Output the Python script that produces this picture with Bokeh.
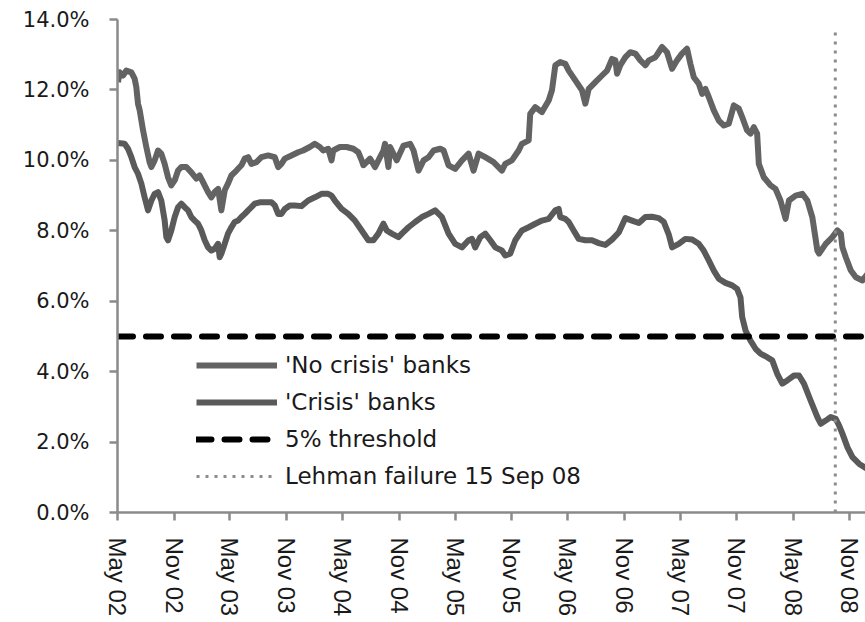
from datetime import datetime
from bokeh.plotting import figure
from bokeh.models import (Range1d, FixedTicker, PrintfTickFormatter,
                          DatetimeTickFormatter, Legend, LegendItem)
from bokeh.embed import file_html
from bokeh.resources import INLINE

# ---------------- data (dates as decimal years, values in %) ----------------
no_crisis_t = [
    2002.333, 2002.348, 2002.378, 2002.407, 2002.452, 2002.481, 2002.496, 2002.511, 2002.526, 2002.556,
    2002.585, 2002.614, 2002.630, 2002.659, 2002.689, 2002.718, 2002.748, 2002.778, 2002.807, 2002.837,
    2002.867, 2002.896, 2002.941, 2002.985, 2003.030, 2003.059, 2003.089, 2003.134, 2003.163, 2003.193,
    2003.223, 2003.252, 2003.282, 2003.311, 2003.341, 2003.386, 2003.430, 2003.460, 2003.490, 2003.519,
    2003.564, 2003.608, 2003.668, 2003.727, 2003.757, 2003.786, 2003.816, 2003.875, 2003.935, 2003.979,
    2004.038, 2004.082, 2004.127, 2004.157, 2004.201, 2004.231, 2004.246, 2004.305, 2004.364, 2004.424,
    2004.468, 2004.498, 2004.513, 2004.542, 2004.572, 2004.616, 2004.661, 2004.691, 2004.705, 2004.735,
    2004.750, 2004.809, 2004.869, 2004.928, 2004.958, 2004.987, 2005.002, 2005.047, 2005.091, 2005.136,
    2005.195, 2005.225, 2005.269, 2005.328, 2005.388, 2005.447, 2005.491, 2005.536, 2005.595, 2005.669,
    2005.743, 2005.773, 2005.832, 2005.892, 2005.921, 2005.981, 2005.995, 2006.040, 2006.099, 2006.159,
    2006.188, 2006.218, 2006.262, 2006.307, 2006.337, 2006.396, 2006.455, 2006.485, 2006.515, 2006.574,
    2006.633, 2006.678, 2006.722, 2006.752, 2006.767, 2006.796, 2006.841, 2006.885, 2006.930, 2006.974,
    2007.019, 2007.049, 2007.108, 2007.137, 2007.167, 2007.211, 2007.256, 2007.300, 2007.344, 2007.389,
    2007.419, 2007.449, 2007.493, 2007.523, 2007.552, 2007.582, 2007.627, 2007.671, 2007.716, 2007.760,
    2007.805, 2007.849, 2007.879, 2007.923, 2007.953, 2007.983, 2008.012, 2008.027, 2008.071, 2008.131,
    2008.175, 2008.219, 2008.264, 2008.294, 2008.353, 2008.412, 2008.457, 2008.501, 2008.546, 2008.561,
    2008.620, 2008.679, 2008.724, 2008.754, 2008.768, 2008.798, 2008.843, 2008.887, 2008.946, 2008.991,
]
no_crisis_v = [
    12.22, 12.50, 12.41, 12.55, 12.50, 12.32, 12.08, 11.61, 11.42, 10.85,
    10.38, 9.95, 9.81, 10.00, 10.28, 10.19, 9.90, 9.52, 9.29, 9.43,
    9.71, 9.81, 9.81, 9.66, 9.48, 9.57, 9.38, 9.10, 8.95, 9.10,
    9.19, 8.58, 9.15, 9.34, 9.57, 9.71, 9.86, 10.05, 10.09, 9.90,
    9.95, 10.09, 10.14, 10.09, 9.81, 9.90, 10.05, 10.14, 10.23, 10.28,
    10.38, 10.47, 10.38, 10.28, 10.33, 10.00, 10.28, 10.38, 10.38, 10.33,
    10.23, 10.00, 9.86, 9.95, 10.05, 9.81, 10.09, 10.28, 10.47, 9.81,
    10.38, 10.00, 10.42, 10.47, 10.28, 9.90, 9.71, 10.00, 10.09, 10.28,
    10.33, 10.28, 9.86, 9.76, 10.00, 10.19, 9.71, 10.19, 10.09, 9.95,
    9.71, 9.90, 10.00, 10.28, 10.47, 10.57, 11.32, 11.51, 11.37, 11.70,
    11.99, 12.70, 12.79, 12.74, 12.55, 12.27, 11.99, 11.61, 12.03, 12.22,
    12.41, 12.55, 12.88, 12.84, 12.46, 12.70, 12.93, 13.07, 13.03, 12.84,
    12.70, 12.84, 12.93, 13.07, 13.22, 13.07, 12.60, 12.84, 13.03, 13.17,
    12.74, 12.36, 12.18, 11.89, 12.03, 11.80, 11.42, 11.13, 10.99, 11.04,
    11.56, 11.47, 11.23, 10.85, 10.76, 10.94, 10.76, 9.90, 9.52, 9.29,
    9.19, 8.86, 8.34, 8.86, 9.00, 9.05, 8.86, 8.39, 7.44, 7.35,
    7.63, 7.82, 8.01, 7.92, 7.53, 7.25, 6.87, 6.68, 6.59, 6.78,
]

crisis_t = [
    2002.333, 2002.392, 2002.422, 2002.452, 2002.481, 2002.511, 2002.541, 2002.570, 2002.600, 2002.630,
    2002.659, 2002.689, 2002.718, 2002.748, 2002.763, 2002.778, 2002.807, 2002.837, 2002.867, 2002.896,
    2002.926, 2002.956, 2002.985, 2003.015, 2003.045, 2003.074, 2003.104, 2003.134, 2003.163, 2003.193,
    2003.223, 2003.237, 2003.252, 2003.282, 2003.311, 2003.341, 2003.371, 2003.401, 2003.430, 2003.460,
    2003.490, 2003.519, 2003.549, 2003.593, 2003.638, 2003.697, 2003.727, 2003.757, 2003.786, 2003.816,
    2003.860, 2003.905, 2003.964, 2004.024, 2004.083, 2004.142, 2004.201, 2004.231, 2004.260, 2004.320,
    2004.379, 2004.438, 2004.498, 2004.557, 2004.602, 2004.646, 2004.691, 2004.720, 2004.765, 2004.824,
    2004.854, 2004.913, 2004.972, 2005.032, 2005.091, 2005.150, 2005.210, 2005.269, 2005.328, 2005.388,
    2005.447, 2005.477, 2005.506, 2005.551, 2005.595, 2005.640, 2005.684, 2005.743, 2005.773, 2005.817,
    2005.862, 2005.921, 2005.981, 2006.040, 2006.099, 2006.159, 2006.218, 2006.248, 2006.262, 2006.307,
    2006.337, 2006.381, 2006.426, 2006.485, 2006.544, 2006.604, 2006.663, 2006.722, 2006.782, 2006.841,
    2006.900, 2006.960, 2007.019, 2007.078, 2007.137, 2007.182, 2007.226, 2007.256, 2007.315, 2007.374,
    2007.434, 2007.493, 2007.537, 2007.582, 2007.627, 2007.671, 2007.730, 2007.790, 2007.834, 2007.864,
    2007.879, 2007.909, 2007.953, 2007.998, 2008.042, 2008.101, 2008.146, 2008.190, 2008.235, 2008.279,
    2008.339, 2008.383, 2008.427, 2008.486, 2008.546, 2008.576, 2008.620, 2008.665, 2008.709, 2008.739,
    2008.768, 2008.813, 2008.857, 2008.917, 2008.961, 2008.991,
]
crisis_v = [
    10.49, 10.47, 10.33, 10.09, 9.81, 9.62, 9.34, 8.95, 8.58, 8.86,
    9.05, 9.10, 8.86, 8.29, 7.82, 7.73, 8.01, 8.39, 8.67, 8.77,
    8.67, 8.58, 8.39, 8.29, 8.20, 8.01, 7.73, 7.53, 7.44, 7.49,
    7.63, 7.25, 7.35, 7.63, 7.92, 8.10, 8.25, 8.29, 8.39, 8.48,
    8.58, 8.67, 8.77, 8.81, 8.81, 8.81, 8.72, 8.48, 8.48, 8.62,
    8.72, 8.72, 8.70, 8.86, 8.95, 9.05, 9.05, 9.00, 8.86, 8.62,
    8.48, 8.29, 8.01, 7.73, 7.73, 7.92, 8.20, 8.01, 7.92, 7.82,
    7.92, 8.10, 8.25, 8.39, 8.48, 8.58, 8.39, 7.92, 7.63, 7.53,
    7.73, 7.77, 7.53, 7.82, 7.92, 7.73, 7.53, 7.44, 7.30, 7.35,
    7.73, 8.01, 8.10, 8.20, 8.29, 8.34, 8.58, 8.62, 8.39, 8.34,
    8.25, 8.01, 7.77, 7.73, 7.73, 7.65, 7.60, 7.75, 7.95, 8.36,
    8.29, 8.22, 8.39, 8.40, 8.36, 8.25, 7.90, 7.53, 7.63, 7.77,
    7.75, 7.63, 7.44, 7.16, 6.87, 6.64, 6.52, 6.45, 6.35, 6.11,
    5.55, 5.17, 4.88, 4.65, 4.51, 4.41, 4.32, 3.94, 3.66, 3.75,
    3.89, 3.89, 3.66, 3.18, 2.71, 2.52, 2.61, 2.71, 2.66, 2.47,
    2.24, 1.85, 1.57, 1.38, 1.29, 1.24,
]

threshold_value = 5.0
lehman_date = "2008-09-15"
lehman_top = 13.75

tick_dates = ["2002-05-01", "2002-11-01", "2003-05-01", "2003-11-01", "2004-05-01",
              "2004-11-01", "2005-05-01", "2005-11-01", "2006-05-01", "2006-11-01",
              "2007-05-01", "2007-11-01", "2008-05-01", "2008-11-01"]
y_ticks = [0, 2, 4, 6, 8, 10, 12, 14]

labels = ["'No crisis' banks", "'Crisis' banks", "5% threshold", "Lehman failure 15 Sep 08"]

# ---------------- helpers ----------------
EPOCH = datetime(1970, 1, 1)


def dec_to_dt(y):
    yr = int(y)
    start = datetime(yr, 1, 1)
    end = datetime(yr + 1, 1, 1)
    return start + (end - start) * (y - yr)


def iso_to_dt(s):
    return datetime.strptime(s, "%Y-%m-%d")


def to_ms(d):
    return (d - EPOCH).total_seconds() * 1000.0


nc_x = [dec_to_dt(t) for t in no_crisis_t]
cr_x = [dec_to_dt(t) for t in crisis_t]
lehman_x = iso_to_dt(lehman_date)

AX = "#8a8a8a"

p = figure(width=865, height=622, x_axis_type="datetime",
           x_range=Range1d(iso_to_dt("2002-05-01"), datetime(2008, 12, 22)),
           y_range=Range1d(0, 14),
           output_backend="svg", toolbar_location=None,
           min_border_left=117, min_border_right=0,
           min_border_top=19, min_border_bottom=110)
p.outline_line_color = None
p.grid.visible = False
p.background_fill_color = "white"
p.border_fill_color = "white"

r_nc = p.line(nc_x, no_crisis_v, line_color="#636363", line_width=6, line_join="round")
r_cr = p.line(cr_x, crisis_v, line_color="#5a5a5a", line_width=6, line_join="round")
r_th = p.line([nc_x[0], nc_x[-1]], [threshold_value, threshold_value], line_color="black",
              line_width=6, line_dash="15 13", line_cap="round")
r_lh = p.line([lehman_x, lehman_x], [0, lehman_top], line_color="#8c8c8c",
              line_width=3, line_dash="3 6")

# axes
for ax in (p.xaxis[0], p.yaxis[0]):
    ax.axis_line_color = AX
    ax.axis_line_width = 2.5
    ax.major_tick_line_color = AX
    ax.major_tick_line_width = 2.5
    ax.major_tick_out = 8
    ax.major_tick_in = 0
    ax.minor_tick_out = 0
    ax.minor_tick_in = 0
    ax.major_label_text_color = "#1a1a1a"

p.yaxis.ticker = FixedTicker(ticks=y_ticks)
p.yaxis.formatter = PrintfTickFormatter(format="%.1f%%")
p.yaxis.major_label_text_font = "DejaVu Sans"
p.yaxis.major_label_text_font_size = "21px"
p.yaxis.major_label_standoff = 20

p.xaxis.ticker = FixedTicker(ticks=[to_ms(iso_to_dt(d)) for d in tick_dates])
fmt = "%b %y"
p.xaxis.formatter = DatetimeTickFormatter(days=fmt, months=fmt, years=fmt, hours=fmt,
                                          minutes=fmt, seconds=fmt, milliseconds=fmt,
                                          microseconds=fmt)
p.xaxis.major_label_orientation = "vertical"
p.xaxis.major_label_text_font = "Liberation Sans"
p.xaxis.major_label_text_font_size = "24px"
p.xaxis.major_label_standoff = 17

legend = Legend(items=[LegendItem(label=labels[0], renderers=[r_nc]),
                       LegendItem(label=labels[1], renderers=[r_cr]),
                       LegendItem(label=labels[2], renderers=[r_th]),
                       LegendItem(label=labels[3], renderers=[r_lh])],
                location=(79, 21), glyph_width=81, glyph_height=30, spacing=7,
                padding=0, margin=0, label_standoff=8,
                border_line_alpha=0, background_fill_alpha=0,
                label_text_font="DejaVu Sans", label_text_font_size="23px",
                label_text_color="#1a1a1a")
p.add_layout(legend)

open("out.html", "w").write(file_html(p, INLINE))
